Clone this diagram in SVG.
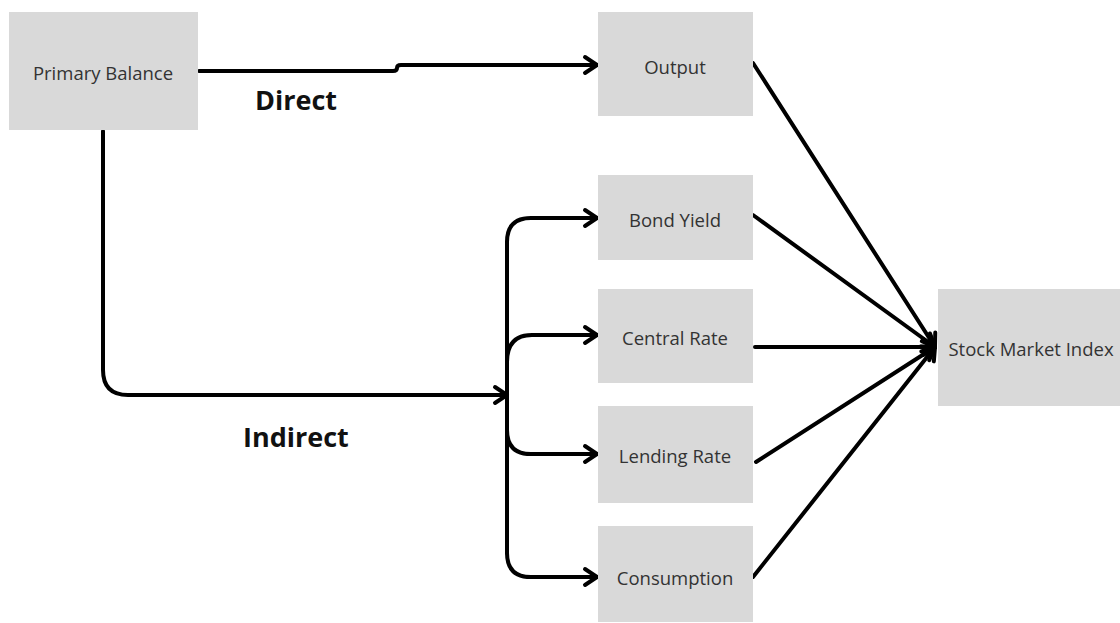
<svg xmlns="http://www.w3.org/2000/svg" width="1120" height="623" viewBox="0 0 1120 623">
  <defs>
    <marker id="chev" markerUnits="userSpaceOnUse" markerWidth="30" markerHeight="30" viewBox="-15 -15 30 30" refX="0" refY="0" orient="auto" overflow="visible">
      <path d="M-12,-8 L0,0 L-12,8" fill="none" stroke="#000" stroke-width="4" stroke-linecap="round" stroke-linejoin="round"/>
    </marker>
    <style>
      .box { fill: #d9d9d9; }
      .lbl { font-family: "Open Sans", "Liberation Sans", sans-serif; font-size: 18.5px; fill: #333; text-anchor: middle; dominant-baseline: central; }
      .tag { font-family: "Open Sans", "Liberation Sans", sans-serif; font-size: 27px; font-weight: bold; fill: #111; }
      .wire { fill: none; stroke: #000; stroke-width: 4; stroke-linecap: round; stroke-linejoin: round; }
      .arr { marker-end: url(#chev); }
    </style>
  </defs>
  <rect width="1120" height="623" fill="#fff"/>

  <!-- connectors -->
  <g id="connectors">
    <!-- direct path -->
    <path class="wire arr" d="M199,71 H393 Q397,71 397,68 Q397,65 401,65 H597"/>
    <!-- indirect path -->
    <path class="wire arr" d="M103,131 V370 Q103,395 128,395 H507"/>
    <!-- distribution trunk and branches -->
    <path class="wire" d="M507,242 V553"/>
    <path class="wire arr" d="M507,242 Q507,218 531,218 H597"/>
    <path class="wire arr" d="M507,362 Q507,335 532,335 H597"/>
    <path class="wire arr" d="M507,430 Q507,454 531,454 H597"/>
    <path class="wire arr" d="M507,553 Q507,577 531,577 H597"/>
    <!-- into stock market index -->
    <path class="wire arr" d="M753,63 L935,347"/>
    <path class="wire arr" d="M753,215 L935,347"/>
    <path class="wire arr" d="M755,347 L935,347"/>
    <path class="wire arr" d="M756,462 L935,347"/>
    <path class="wire arr" d="M753,577 L935,347"/>
  </g>

  <text class="tag" x="255" y="110">Direct</text>
  <text class="tag" x="243" y="447">Indirect</text>

  <g id="primary-balance">
    <rect class="box" x="9" y="12" width="189" height="118"/>
    <text class="lbl" x="103" y="72">Primary Balance</text>
  </g>
  <g id="output">
    <rect class="box" x="598" y="12" width="155" height="104"/>
    <text class="lbl" x="675" y="66">Output</text>
  </g>
  <g id="bond-yield">
    <rect class="box" x="598" y="175" width="155" height="85"/>
    <text class="lbl" x="675" y="219">Bond Yield</text>
  </g>
  <g id="central-rate">
    <rect class="box" x="598" y="289" width="155" height="94"/>
    <text class="lbl" x="675" y="337">Central Rate</text>
  </g>
  <g id="lending-rate">
    <rect class="box" x="598" y="406" width="155" height="97"/>
    <text class="lbl" x="675" y="455">Lending Rate</text>
  </g>
  <g id="consumption">
    <rect class="box" x="598" y="526" width="155" height="96"/>
    <text class="lbl" x="675" y="577">Consumption</text>
  </g>
  <g id="stock-market-index">
    <rect class="box" x="938" y="289" width="182" height="117"/>
    <text class="lbl" x="1031" y="348">Stock Market Index</text>
  </g>
</svg>
